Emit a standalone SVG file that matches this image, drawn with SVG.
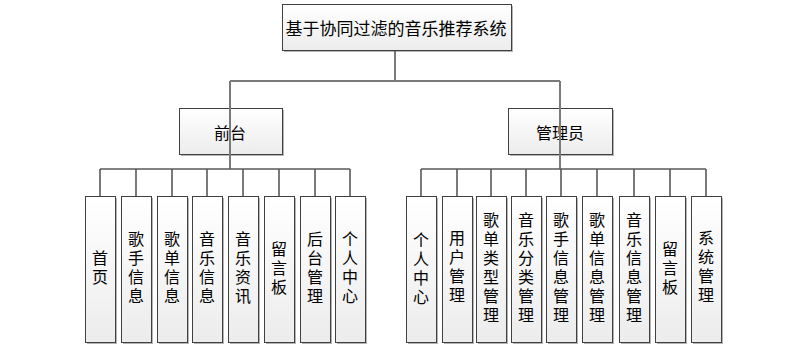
<svg xmlns="http://www.w3.org/2000/svg" width="790" height="349" viewBox="0 0 790 349">
<defs>
<linearGradient id="g" x1="0" y1="0" x2="0" y2="1">
<stop offset="0" stop-color="#ffffff"/>
<stop offset="1" stop-color="#ececec"/>
</linearGradient>
</defs>
<style>
.sh{fill:#b4b4b4}
.bx{fill:url(#g);stroke:#404040;stroke-width:1}
.t{font-family:"Noto Sans CJK SC","Noto Sans",sans-serif;font-size:16px;fill:#000;text-anchor:middle;dominant-baseline:central}
.v{font-family:"Noto Sans CJK SC","Noto Sans",sans-serif;font-size:16px;fill:#000;text-anchor:middle;writing-mode:vertical-rl;letter-spacing:3px}
.c{fill:none;stroke:#595959;stroke-width:1.6}
.ch{fill:none;stroke:#7a7a7a;stroke-width:2}
</style>
<rect width="790" height="349" fill="#ffffff"/>
<g id="root">
<rect class="sh" x="284" y="6" width="229" height="46"/>
<rect class="bx" x="282.5" y="4.5" width="229" height="46"/>
<text class="t" x="396" y="27" style="font-size:17px">基于协同过滤的音乐推荐系统</text>
</g>
<g id="qiantai">
<rect class="sh" x="181" y="110" width="103" height="46"/>
<rect class="bx" x="179.5" y="108.5" width="103" height="46"/>
<text class="t" x="230" y="132">前台</text>
</g>
<g id="guanliyuan">
<rect class="sh" x="510" y="110" width="104" height="46"/>
<rect class="bx" x="508.5" y="108.5" width="104" height="46"/>
<text class="t" x="560" y="132">管理员</text>
</g>
<g id="f1"><rect class="sh" x="87" y="198" width="30" height="146"/><rect class="bx" x="85.5" y="196.5" width="30" height="146"/>
<text class="v" x="100" y="269">首页</text></g>
<g id="f2"><rect class="sh" x="123" y="198" width="30" height="146"/><rect class="bx" x="121.5" y="196.5" width="30" height="146"/>
<text class="v" x="136" y="269">歌手信息</text></g>
<g id="f3"><rect class="sh" x="159" y="198" width="30" height="146"/><rect class="bx" x="157.5" y="196.5" width="30" height="146"/>
<text class="v" x="172" y="269">歌单信息</text></g>
<g id="f4"><rect class="sh" x="194" y="198" width="30" height="146"/><rect class="bx" x="192.5" y="196.5" width="30" height="146"/>
<text class="v" x="207" y="269">音乐信息</text></g>
<g id="f5"><rect class="sh" x="230" y="198" width="30" height="146"/><rect class="bx" x="228.5" y="196.5" width="30" height="146"/>
<text class="v" x="243" y="269">音乐资讯</text></g>
<g id="f6"><rect class="sh" x="266" y="198" width="30" height="146"/><rect class="bx" x="264.5" y="196.5" width="30" height="146"/>
<text class="v" x="279" y="269">留言板</text></g>
<g id="f7"><rect class="sh" x="302" y="198" width="30" height="146"/><rect class="bx" x="300.5" y="196.5" width="30" height="146"/>
<text class="v" x="315" y="269">后台管理</text></g>
<g id="f8"><rect class="sh" x="337" y="198" width="30" height="146"/><rect class="bx" x="335.5" y="196.5" width="30" height="146"/>
<text class="v" x="350" y="269">个人中心</text></g>
<g id="a1"><rect class="sh" x="408" y="198" width="30" height="146"/><rect class="bx" x="406.5" y="196.5" width="30" height="146"/>
<text class="v" x="421" y="270">个人中心</text></g>
<g id="a2"><rect class="sh" x="444" y="198" width="30" height="146"/><rect class="bx" x="442.5" y="196.5" width="30" height="146"/>
<text class="v" x="457" y="268">用户管理</text></g>
<g id="a3"><rect class="sh" x="478" y="198" width="30" height="146"/><rect class="bx" x="476.5" y="196.5" width="30" height="146"/>
<text class="v" x="491" y="269">歌单类型管理</text></g>
<g id="a4"><rect class="sh" x="513" y="198" width="30" height="146"/><rect class="bx" x="511.5" y="196.5" width="30" height="146"/>
<text class="v" x="526" y="269">音乐分类管理</text></g>
<g id="a5"><rect class="sh" x="548" y="198" width="30" height="146"/><rect class="bx" x="546.5" y="196.5" width="30" height="146"/>
<text class="v" x="561" y="269">歌手信息管理</text></g>
<g id="a6"><rect class="sh" x="584" y="198" width="30" height="146"/><rect class="bx" x="582.5" y="196.5" width="30" height="146"/>
<text class="v" x="597" y="269">歌单信息管理</text></g>
<g id="a7"><rect class="sh" x="621" y="198" width="30" height="146"/><rect class="bx" x="619.5" y="196.5" width="30" height="146"/>
<text class="v" x="634" y="269">音乐信息管理</text></g>
<g id="a8"><rect class="sh" x="657" y="198" width="30" height="146"/><rect class="bx" x="655.5" y="196.5" width="30" height="146"/>
<text class="v" x="670" y="269">留言板</text></g>
<g id="a9"><rect class="sh" x="693" y="198" width="30" height="146"/><rect class="bx" x="691.5" y="196.5" width="30" height="146"/>
<text class="v" x="706" y="268">系统管理</text></g>
<g id="connectors">
<path class="c" d="M395,51 V81"/>
<path class="ch" d="M230,81 H560 M230,81 V169 M560,81 V169"/>
<path class="c" d="M100,169 H350 M100,169 V196 M136,169 V196 M172,169 V196 M207,169 V196 M243,169 V196 M279,169 V196 M315,169 V196 M350,169 V196"/>
<path class="c" d="M421,169 H706 M421,169 V196 M457,169 V196 M491,169 V196 M526,169 V196 M561,169 V196 M597,169 V196 M634,169 V196 M670,169 V196 M706,169 V196"/>
</g>
</svg>
